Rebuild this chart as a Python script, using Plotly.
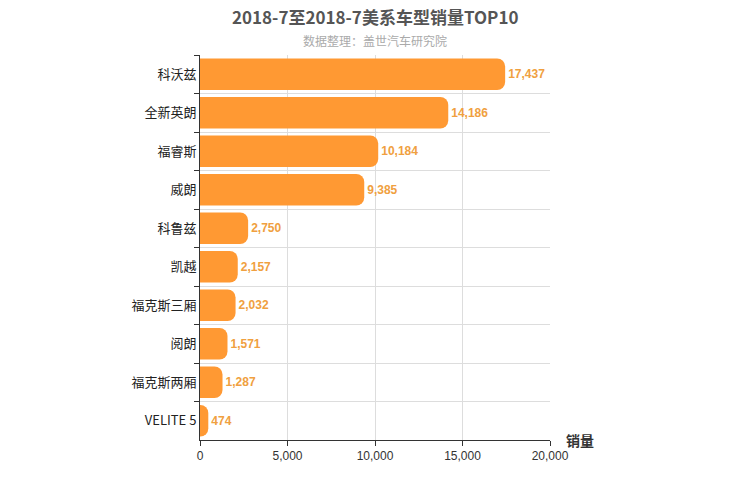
import plotly.graph_objects as go

categories = ["科沃兹", "全新英朗", "福睿斯", "威朗", "科鲁兹", "凯越", "福克斯三厢", "阅朗", "福克斯两厢", "VELITE 5"]
sales = [17437, 14186, 10184, 9385, 2750, 2157, 2032, 1571, 1287, 474]
x_ticks = [0, 5000, 10000, 15000, 20000]

T, B, L, R = 47, 68, 192, 208
fig = go.Figure(go.Bar(
    x=sales, y=categories, orientation="h",
    marker=dict(color="#FF9933", line=dict(width=0)),
    text=[f"<b>{v:,}</b>" for v in sales], textposition="outside",
    textfont=dict(color="#F0A040", size=12, family="Liberation Sans"),
    cliponaxis=False,
))
ph = 500 - T - B
fig.update_layout(
    width=750, height=500, plot_bgcolor="white", paper_bgcolor="white",
    margin=dict(l=L, r=R, t=T, b=B, autoexpand=False),
    barcornerradius=8,
    font=dict(family="Noto Sans CJK SC", color="#333"),
    xaxis=dict(range=[0, 20000], tickvals=x_ticks, tickformat=",", showgrid=True, gridcolor="#ddd",
               showline=True, linecolor="#333", ticks="outside", tickcolor="#333", zeroline=False,
               automargin=False, tickfont=dict(size=12, family="Liberation Sans")),
    yaxis=dict(autorange="reversed", tickson="boundaries", showgrid=True, gridcolor="#ddd",
               showline=True, linecolor="#333", ticks="outside", tickcolor="#333", ticklen=5,
               automargin=False, tickfont=dict(size=13, color="#222")),
    bargap=0.18,
    annotations=[
        dict(text="<b>2018-7至2018-7美系车型销量TOP10</b>", x=0.5, y=1 + (T + 8 - 17) / ph,
             xref="paper", yref="paper", showarrow=False, font=dict(size=17, color="#555"), yanchor="middle"),
        dict(text="数据整理：盖世汽车研究院", x=0.5, y=1 + (T + 8 - 41) / ph, xref="paper", yref="paper",
             showarrow=False, font=dict(size=12, color="#aaa"), yanchor="middle"),
        dict(text="<b>销量</b>", x=1.04, y=0, xref="paper", yref="paper", xanchor="left",
             yanchor="middle", showarrow=False, font=dict(size=14, color="#333")),
    ],
)
fig.write_html("out.html")
